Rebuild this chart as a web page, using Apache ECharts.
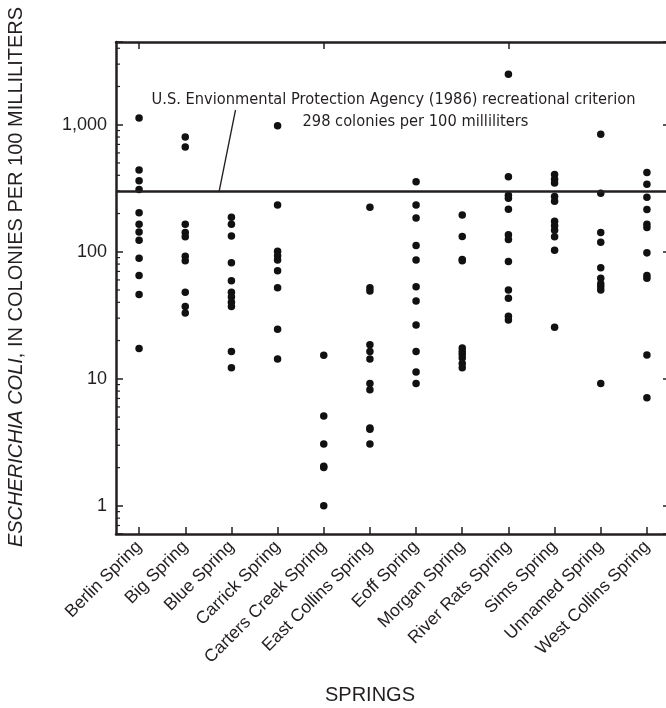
<!DOCTYPE html>
<html>
<head>
<meta charset="utf-8">
<script src="https://cdn.jsdelivr.net/npm/echarts@6/dist/echarts.min.js"></script>
<style>
html,body{margin:0;padding:0;background:#fff;}
#chart{width:666px;height:708px;}
</style>
</head>
<body>
<div id="chart"></div>
<script>
// ---- data ----
const categories = ['Berlin Spring','Big Spring','Blue Spring','Carrick Spring','Carters Creek Spring','East Collins Spring','Eoff Spring','Morgan Spring','River Rats Spring','Sims Spring','Unnamed Spring','West Collins Spring'];
const berlin = [1130, 440, 362, 309, 203, 165, 143, 123, 89, 65, 46, 17.3];
const big = [800, 668, 165, 142, 131, 92, 85, 48, 37, 33];
const blue = [187, 165, 133, 82, 59, 48, 44, 40, 37, 16.4, 12.2];
const carrick = [982, 233, 101, 93, 86, 71, 52, 24.6, 14.3];
const cartersCreek = [15.3, 5.1, 3.06, 2.05, 2.0, 1.0];
const eastCollins = [224, 52, 49, 18.5, 16.4, 14.3, 9.2, 8.2, 4.1, 4.0, 3.06];
const eoff = [356, 233, 184, 112, 86, 53, 41, 26.5, 16.4, 11.3, 9.2];
const morgan = [195, 132, 87, 85, 17.5, 16.4, 15.5, 14.6, 13.2, 12.2];
const riverRats = [2494, 390, 278, 264, 216, 136, 125, 84, 50, 43, 31, 29];
const sims = [405, 372, 348, 272, 250, 174, 160, 148, 131, 103, 25.5];
const unnamed = [840, 289, 142, 119, 75, 62, 56, 53, 50, 9.2];
const westCollins = [420, 340, 268, 215, 165, 155, 98, 65, 62, 15.4, 7.1];
const seriesValues = [berlin, big, blue, carrick, cartersCreek, eastCollins, eoff, morgan, riverRats, sims, unnamed, westCollins];
const criterion = 298;
const yTickLabels = {1:'1', 10:'10', 100:'100', 1000:'1,000'};
const minorTickValues = [0.7,0.8,0.9,2,3,4,5,6,7,8,9,20,30,40,50,60,70,80,90,200,300,400,500,600,700,800,900,2000,3000,4000];

// ---- build ----
const points = [];
seriesValues.forEach((arr, i) => arr.forEach(v => points.push([i, v])));

const FONT = "'Liberation Sans', Arial, Helvetica, sans-serif";
const NARROW = "'Liberation Sans Narrow', 'DejaVu Sans Condensed', 'Liberation Sans', sans-serif";
const INK = '#231f20';

const chart = echarts.init(document.getElementById('chart'), null, {renderer:'canvas'});
chart.setOption({
  animation: false,
  backgroundColor: '#fff',
  grid: {left: 116, top: 42, width: 554, height: 492, containLabel: false, outerBoundsMode: 'none'},
  xAxis: [{
    type: 'category', data: categories, position: 'bottom',
    boundaryGap: true,
    axisLine: {show: true, onZero: false, lineStyle: {color: INK, width: 2.5}},
    axisTick: {show: true, inside: true, length: 7, alignWithLabel: true, lineStyle: {color: INK, width: 1.5}},
    axisLabel: {rotate: 45, margin: 10, fontSize: 17.5, fontFamily: FONT, color: INK, interval: 0, hideOverlap: false},
    splitLine: {show: false}
  },{
    type: 'category', data: categories, position: 'top',
    boundaryGap: true,
    axisLine: {show: true, onZero: false, lineStyle: {color: INK, width: 2.5}},
    axisTick: {show: true, inside: true, length: 7, alignWithLabel: true, lineStyle: {color: INK, width: 1.5}},
    axisLabel: {show: false},
    splitLine: {show: false}
  }],
  yAxis: [{
    type: 'log', logBase: 10, min: 0.6, max: 4480, position: 'left',
    axisLine: {show: true, onZero: false, lineStyle: {color: INK, width: 2.5}},
    axisTick: {show: true, inside: true, length: 7, lineStyle: {color: INK, width: 1.5}},
    axisLabel: {margin: 9, fontSize: 18, fontFamily: FONT, color: INK,
      formatter: v => { const k = Math.round(v); return (Math.abs(v - k) < 1e-6 && yTickLabels[k]) ? yTickLabels[k] : ''; }},
    splitLine: {show: false}
  },{
    type: 'log', logBase: 10, min: 0.6, max: 4480, position: 'right',
    axisLine: {show: true, onZero: false, lineStyle: {color: INK, width: 2.5}},
    axisTick: {show: true, inside: true, length: 7, lineStyle: {color: INK, width: 1.5}},
    axisLabel: {show: false},
    splitLine: {show: false}
  }],
  series: [{
    type: 'scatter', xAxisIndex: 0, yAxisIndex: 0,
    data: points, symbol: 'circle', symbolSize: 7.5,
    itemStyle: {color: '#111', opacity: 1},
    markLine: {
      silent: true, symbol: 'none', label: {show: false},
      lineStyle: {color: INK, width: 2.5, type: 'solid', opacity: 1},
      data: [{yAxis: criterion}]
    }
  },{
    type: 'custom', xAxisIndex: 0, yAxisIndex: 0, clip: false,
    data: minorTickValues.map(v => [0, v]),
    renderItem: function (params, api) {
      const cs = params.coordSys;
      const y = api.coord([0, api.value(1)])[1];
      return {type: 'group', children: [
        {type: 'line', shape: {x1: cs.x, y1: y, x2: cs.x + 4, y2: y}, style: {stroke: INK, lineWidth: 1.2}},
        {type: 'line', shape: {x1: cs.x + cs.width - 4, y1: y, x2: cs.x + cs.width, y2: y}, style: {stroke: INK, lineWidth: 1.2}}
      ]};
    }
  }],
  graphic: [
    {type: 'text', x: 16, y: 277, rotation: Math.PI / 2,
     style: {text: '{i|ESCHERICHIA COLI}, IN COLONIES PER 100 MILLILITERS',
       fontSize: 20, fontFamily: FONT, fill: INK, align: 'center', verticalAlign: 'middle',
       rich: {i: {fontStyle: 'italic', fontSize: 20, fontFamily: FONT, fill: INK}}}},
    {type: 'text', x: 370, y: 695, style: {text: 'SPRINGS', fontSize: 20, fontFamily: FONT, fill: INK, align: 'center', verticalAlign: 'middle'}},
    {type: 'text', x: 393.5, y: 99.5, style: {text: 'U.S. Envionmental Protection Agency (1986) recreational criterion', fontSize: 16.3, fontFamily: NARROW, fill: INK, align: 'center', verticalAlign: 'middle'}},
    {type: 'text', x: 415.5, y: 122, style: {text: '298 colonies per 100 milliliters', fontSize: 16.3, fontFamily: NARROW, fill: INK, align: 'center', verticalAlign: 'middle'}},
    {type: 'line', shape: {x1: 235.5, y1: 110, x2: 219, y2: 192}, style: {stroke: INK, lineWidth: 1.3}}
  ]
});
</script>
</body>
</html>
